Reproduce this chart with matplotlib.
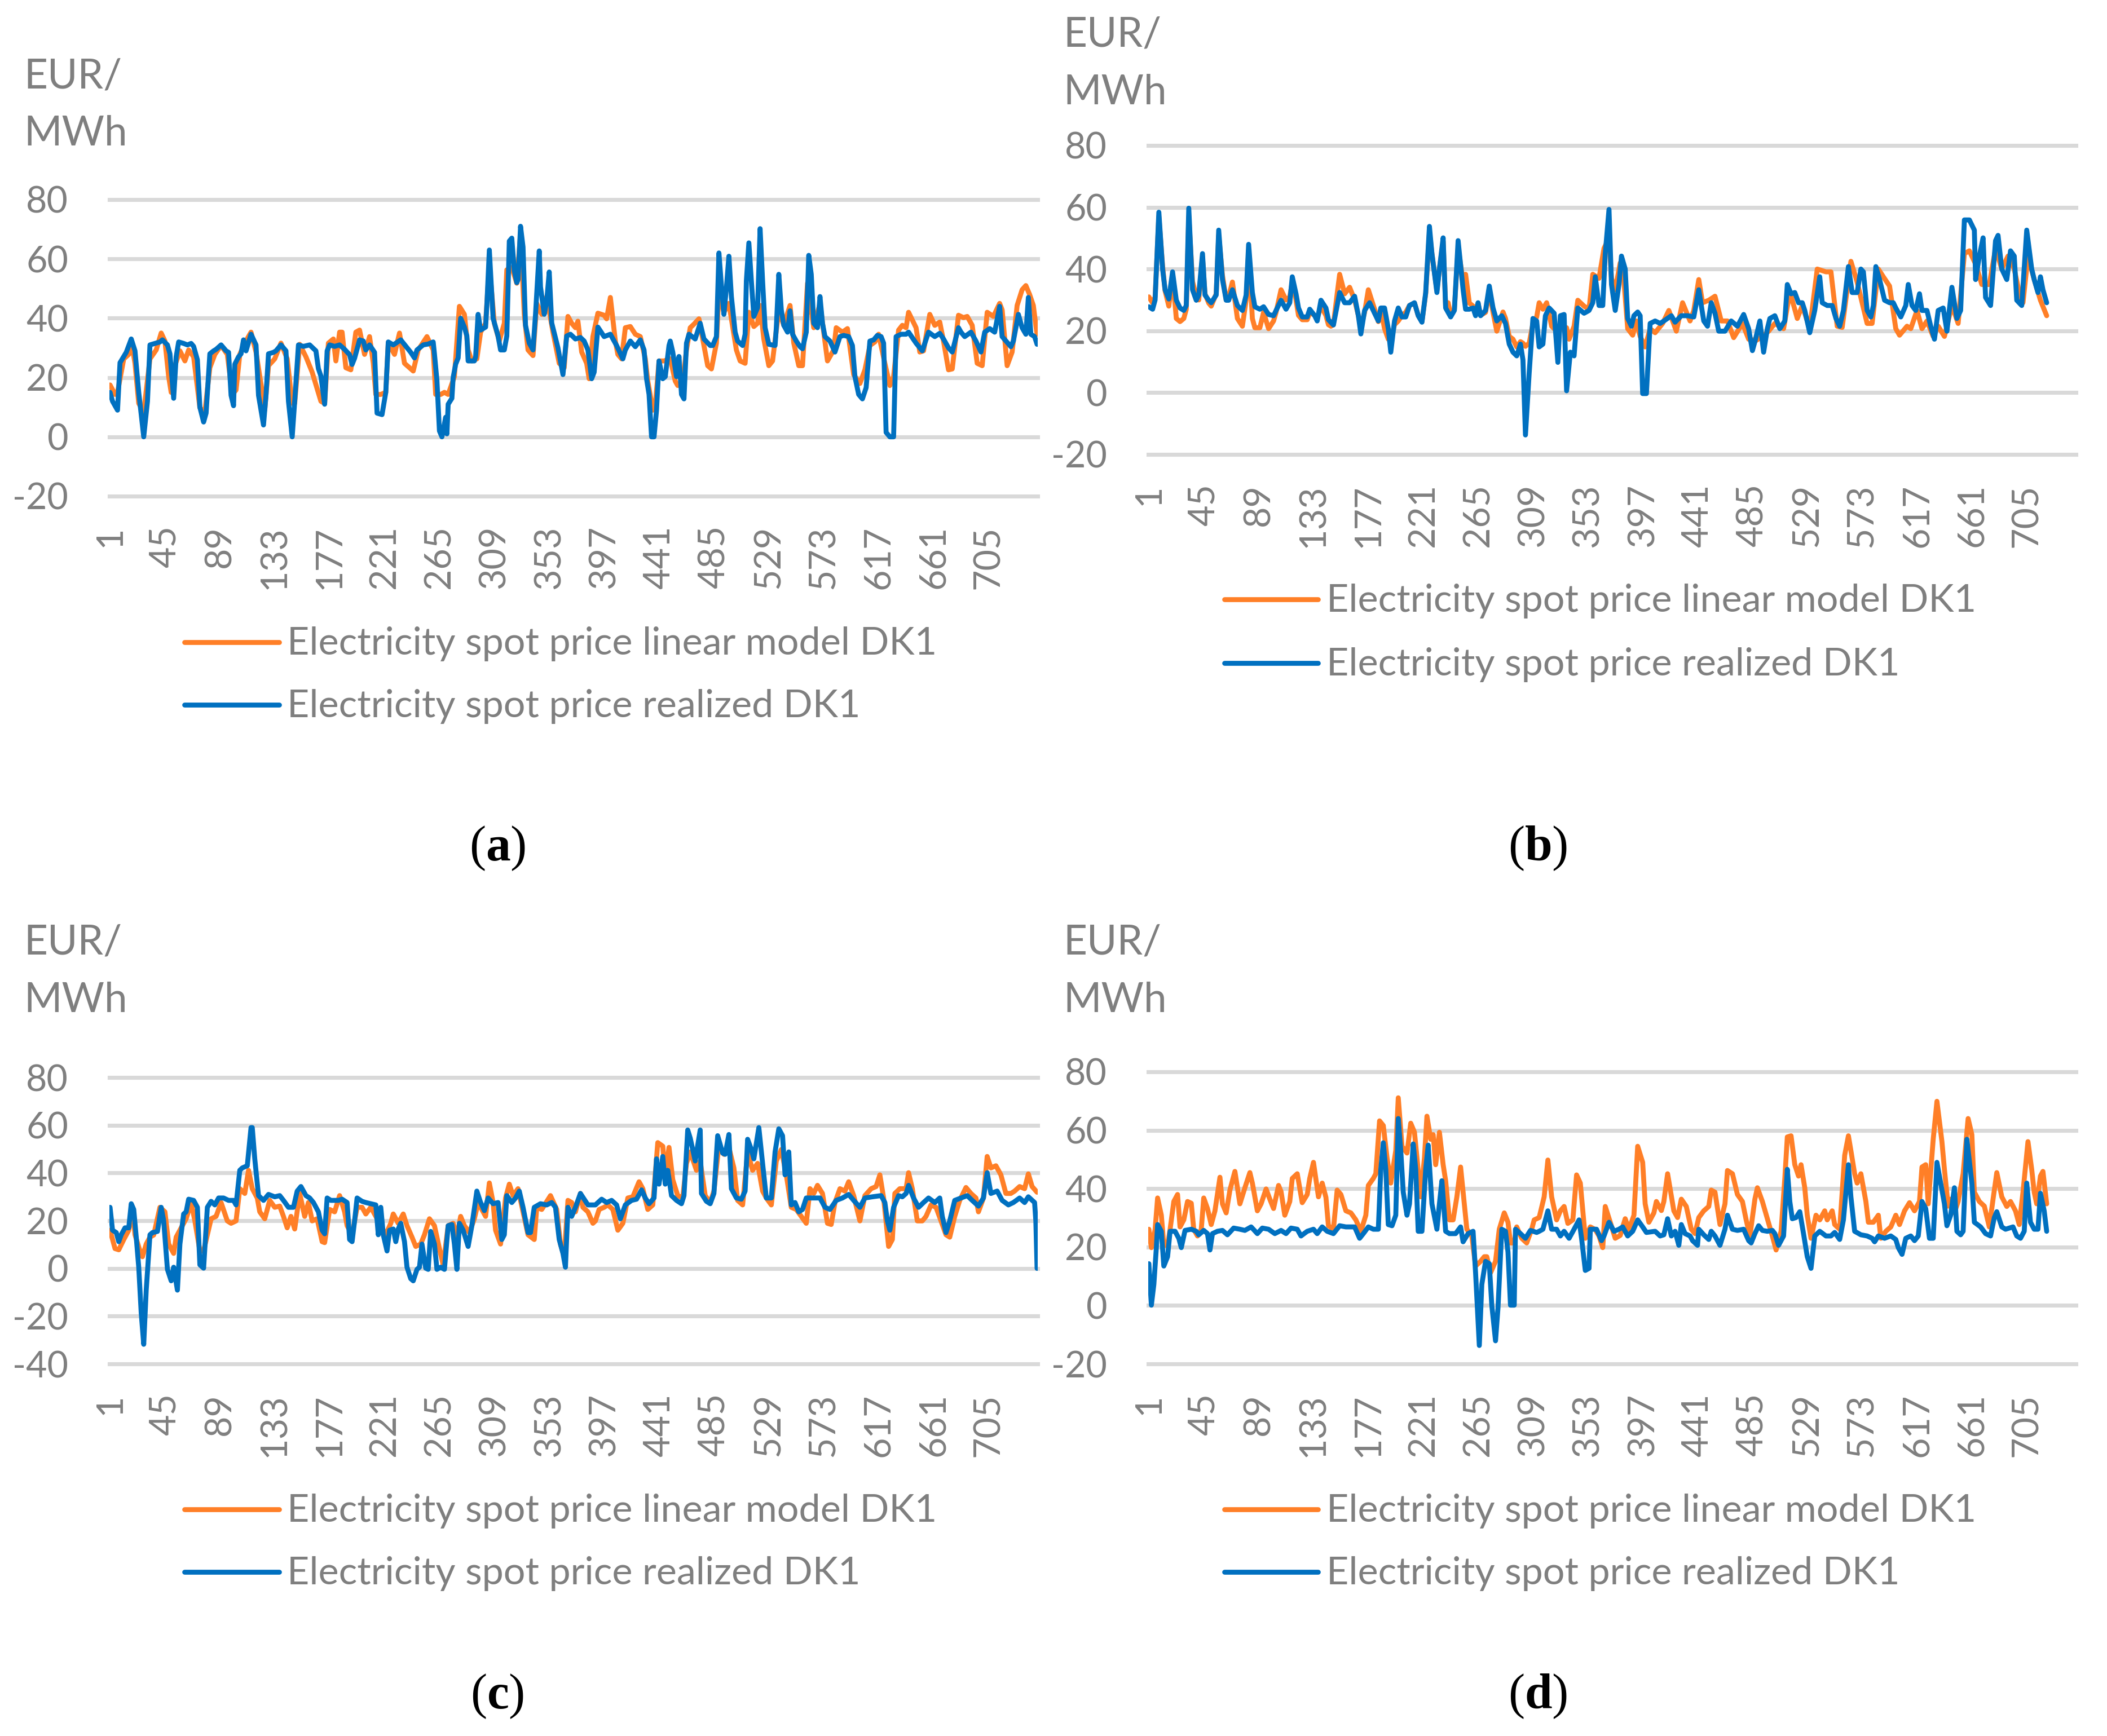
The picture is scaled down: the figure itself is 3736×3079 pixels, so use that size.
import matplotlib
matplotlib.use("Agg")
from matplotlib import pyplot as plt
from matplotlib.lines import Line2D

W, H = 3736, 3079
DPI = 300

# COLORS
ORANGE = "#FF7F27"
BLUE = "#0070C0"
GRID = "#D9D9D9"
GREY = "#7F7F7F"

LEGEND_LABELS = ["Electricity spot price linear model DK1",
                 "Electricity spot price realized DK1"]
X_TICKS = [1, 45, 89, 133, 177, 221, 265, 309, 353, 397, 441, 485, 529, 573, 617, 661, 705]
UNIT_LINES = ["EUR/", "MWh"]

# (hour, EUR/MWh)
A_REAL = [(1, 15), (3, 12), (7, 9), (9, 25), (14, 28.5), (18, 33), (21, 29), (24, 15), (28, 0), (31, 12),
          (33, 31), (37, 31.5), (41, 32), (43, 32.7), (47, 31), (49, 28), (52, 13), (54, 27), (56, 32), (60, 31.5),
          (63, 31), (66, 31.5), (68, 30.5), (71, 26), (73, 10), (76, 5), (78, 8), (81, 28), (84, 29), (86, 29.5),
          (90, 31), (94, 29), (96, 28.5), (98, 14), (100, 10.5), (101, 24.5), (104, 27), (106, 28), (108, 32.7),
          (110, 29), (114, 34.6), (118, 31), (120, 14), (124, 4), (126, 14), (128, 28), (132, 28.5), (134, 29),
          (138, 31), (142, 29), (144, 12), (147, 0), (149, 12), (152, 31), (156, 30.5), (161, 31), (166, 29),
          (168, 23), (170, 20.5), (173, 11), (175, 29), (177, 31), (181, 30.5), (185, 31), (189, 29.5), (193, 27.7),
          (195, 24.4), (197, 26.5), (201, 32.7), (204, 32.3), (206, 29.3), (209, 31), (213, 28.5), (215, 8),
          (219, 7.5), (222, 15), (224, 32), (228, 31), (234, 32.7), (242, 28.5), (245, 26.6), (247, 29.3), (252, 31),
          (256, 31.3), (260, 32), (261, 28), (263, 19), (265, 2), (267, 0), (270, 6.6), (271, 1), (272, 11),
          (275, 13), (276, 20), (278, 24.5), (280, 26.6), (282, 40), (285, 37), (287, 34), (288, 25.6), (293, 25.6),
          (294, 27), (296, 41.3), (298, 36), (302, 37), (303, 44.3), (305, 63), (308, 40), (312, 34), (314, 29.3),
          (317, 29.3), (319, 34), (321, 66), (323, 67), (325, 56), (327, 52), (328, 53), (330, 71), (332, 64),
          (334, 37.6), (337, 31.6), (340, 29.3), (342, 41.3), (345, 62.7), (346, 50.6), (349, 41.3), (351, 45.8),
          (353, 55.6), (355, 38.4), (360, 30), (364, 21), (367, 34), (370, 34.6), (374, 33), (378, 33.5),
          (381, 32.3), (384, 29.3), (387, 19.6), (389, 21.8), (392, 37), (397, 33.8), (402, 34.6), (407, 30.8),
          (412, 26.3), (414, 29.3), (418, 32.3), (422, 30.4), (426, 32.7), (429, 29.3), (431, 19.6), (433, 14.3),
          (435, 0), (437, 0), (439, 9), (441, 25.6), (444, 19.6), (446, 20.3), (449, 30.8), (450, 32.3), (452, 28.6),
          (455, 20.3), (457, 27.1), (459, 14.3), (461, 12.8), (463, 31.6), (465, 34.6), (470, 33), (474, 38.3),
          (477, 33), (482, 30.8), (484, 30.8), (487, 33.8), (489, 62), (491, 51), (493, 41.3), (495, 50.3),
          (497, 60.9), (499, 47.3), (502, 35.3), (504, 32.3), (508, 30.8), (510, 34.6), (511, 52.6), (513, 65.4),
          (515, 52.6), (517, 40.6), (520, 43.6), (522, 70.2), (524, 52.6), (526, 36.8), (529, 31.2), (534, 30.8),
          (535, 36.8), (537, 54.8), (539, 42.8), (541, 37.6), (544, 35.3), (546, 42.5), (548, 34.6), (551, 32.3),
          (554, 30.4), (556, 29.7), (559, 35.3), (561, 61.2), (563, 54.8), (565, 38.3), (568, 36.8), (570, 47.3),
          (572, 38.3), (574, 33.8), (578, 32.3), (582, 28.6), (586, 33.8), (589, 34.2), (593, 33.8), (596, 30.8),
          (598, 20.3), (601, 14.3), (604, 12.8), (607, 16.6), (610, 32.3), (613, 32.7), (616, 34.2), (619, 33.8),
          (621, 31.6), (623, 1.5), (626, 0), (629, 0), (631, 33.8), (635, 34.6), (639, 34.6), (641, 35.3),
          (647, 31.6), (652, 29), (657, 35.3), (662, 33.8), (666, 34.9), (669, 33), (673, 30), (676, 28.6),
          (681, 36.8), (683, 35.3), (686, 33.8), (691, 35.3), (695, 32.3), (699, 28.6), (702, 35.3), (706, 36.5),
          (710, 35.3), (714, 44), (716, 33.8), (723, 30.4), (725, 32.3), (729, 41.3), (732, 36.8), (735, 34.6),
          (737, 47), (739, 34.6), (742, 33.8), (744, 31.2)]

A_MODEL = [(1, 17.5), (5, 14.3), (7, 15), (10, 21.8), (12, 26.3), (16, 27.8), (18, 32.3), (21, 24.8), (24, 11.3),
           (28, 8.3), (33, 26.3), (38, 29.3), (42, 35), (45, 32.3), (48, 20.3), (50, 15), (53, 24), (57, 29),
           (61, 25.6), (64, 29.3), (68, 27), (73, 9.8), (77, 8.3), (81, 23.3), (85, 27.8), (90, 30.8), (95, 27.8),
           (99, 14.3), (102, 15.8), (105, 27.8), (109, 31.6), (114, 35.3), (118, 28.6), (123, 15), (125, 9),
           (128, 24), (133, 26.3), (138, 31.6), (143, 26.3), (147, 11.3), (149, 11.3), (153, 31.2), (158, 27),
           (163, 21.8), (170, 12), (173, 11.3), (176, 31.6), (180, 33), (182, 25.6), (185, 35.3), (187, 35.3),
           (190, 23.3), (194, 22.6), (198, 35.3), (201, 36), (205, 27.8), (209, 33.8), (212, 24.8), (214, 14.3),
           (218, 14.3), (222, 15), (224, 31.6), (229, 27.8), (233, 35), (237, 24.8), (241, 23.3), (244, 22.2),
           (248, 29.3), (255, 33.8), (260, 29.3), (262, 14.3), (266, 14.3), (269, 15), (272, 14.3), (277, 20.3),
           (281, 44), (285, 41.3), (288, 29.3), (291, 25.6), (295, 26.3), (298, 35.3), (302, 38.3), (305, 57.9),
           (309, 38.3), (313, 32.3), (317, 38.3), (319, 56.3), (323, 57.1), (327, 51.8), (330, 68.4), (333, 41.3),
           (336, 29.3), (340, 27.4), (343, 45), (347, 41.3), (351, 47.3), (356, 35.3), (361, 24.8), (365, 23.3),
           (368, 40.6), (371, 38.3), (374, 36.8), (376, 39), (379, 28.6), (383, 24.8), (385, 19.6), (388, 33.8),
           (392, 41.7), (397, 41), (399, 39.8), (402, 47), (406, 32.3), (408, 27.8), (411, 26.3), (414, 36.8),
           (418, 37.2), (422, 34.6), (426, 33.8), (430, 26.3), (432, 18.8), (436, 9), (438, 10.5), (441, 25.6),
           (445, 25.6), (450, 26.3), (454, 18.8), (456, 17.3), (460, 18.8), (463, 29.3), (466, 36.8), (469, 38),
           (473, 39.8), (477, 30.8), (480, 24), (483, 22.9), (487, 31.6), (489, 48.8), (493, 42), (497, 45),
           (501, 34.6), (503, 29.3), (506, 25.6), (510, 24.8), (513, 42), (517, 37.2), (520, 38.3), (522, 44.3),
           (525, 33), (529, 24), (532, 25.6), (537, 42.8), (541, 37.6), (546, 44.3), (549, 31.6), (553, 24),
           (556, 24), (560, 51.8), (565, 36.8), (570, 45), (576, 25.6), (581, 29.3), (583, 36.8), (588, 35.3),
           (592, 36.5), (597, 21), (602, 18), (606, 22.6), (610, 30.8), (614, 32), (617, 34.6), (622, 24.8),
           (626, 17.3), (629, 20.3), (633, 36), (636, 37.6), (639, 36.8), (641, 42), (647, 36.8), (650, 28.6),
           (653, 29), (658, 41.3), (662, 37.6), (666, 38.7), (669, 32.3), (673, 22.6), (676, 22.9), (681, 41),
           (685, 40.2), (688, 40.6), (692, 37.6), (696, 24.8), (700, 24), (704, 42), (709, 40.6), (714, 45),
           (716, 42.8), (720, 24), (724, 28.6), (728, 44.3), (732, 49.6), (735, 51), (738, 48), (741, 44.3),
           (743, 37.6), (744, 34.6)]

B_REAL = [(1, 27.8), (4, 27), (6, 30), (9, 58.4), (12, 40), (14, 33.3), (17, 30.3), (20, 39.1), (23, 29.9),
          (26, 27.4), (29, 26.6), (31, 28.2), (33, 59.7), (36, 33.3), (39, 29.9), (41, 31.6), (44, 45), (46, 31.6),
          (49, 29.9), (51, 29.1), (55, 31.6), (57, 52.6), (60, 36.6), (63, 29.9), (65, 29.9), (68, 33.3), (72, 28.2),
          (76, 26.6), (79, 31.6), (81, 48), (84, 32.4), (86, 27.8), (90, 27), (93, 27.8), (97, 25.3), (101, 24.9),
          (103, 26.6), (107, 29.9), (111, 27), (114, 29.1), (116, 37.5), (119, 32), (121, 27.4), (124, 24.5),
          (128, 24.5), (130, 27), (134, 24.9), (136, 23.2), (139, 29.9), (143, 27.4), (145, 23.6), (149, 21.9),
          (152, 28.2), (154, 32.4), (158, 29.1), (162, 29.1), (166, 31.2), (169, 24.9), (171, 19), (174, 26.6),
          (178, 29.1), (182, 25.7), (185, 23.2), (187, 27.4), (190, 27.4), (193, 20.7), (195, 13.1), (198, 23.2),
          (201, 27.4), (204, 24.5), (207, 24.5), (210, 28.2), (214, 29.1), (217, 24.9), (220, 22.8), (223, 32.4),
          (226, 53.8), (228, 45), (232, 32.4), (234, 40), (237, 50.1), (239, 27.4), (243, 24.5), (246, 26.6),
          (249, 49.2), (253, 33.3), (255, 27), (258, 27), (261, 27.4), (263, 24.9), (265, 29.1), (267, 24.9),
          (271, 26.6), (274, 34.5), (277, 27.4), (280, 23.2), (284, 24.9), (287, 22.4), (290, 15.7), (293, 13.1),
          (296, 11.9), (299, 15.7), (301, 10.6), (303, -13.7), (306, 6.4), (309, 24), (312, 23.2), (314, 14.8),
          (317, 15.7), (319, 24.9), (322, 27.4), (326, 25.7), (329, 9.8), (331, 24.9), (334, 25.3), (336, 0.6),
          (339, 13.1), (342, 11.9), (345, 27.4), (350, 25.7), (354, 26.6), (357, 29.1), (359, 37.5), (362, 28.2),
          (365, 28.2), (367, 45), (370, 59.3), (372, 35), (375, 26.6), (378, 35), (380, 44.2), (383, 40), (385, 24),
          (388, 21.5), (390, 24.9), (393, 26.1), (395, 24.9), (397, -0.3), (400, -0.3), (403, 22.4), (407, 23.2),
          (411, 22.4), (414, 23.2), (420, 24.9), (423, 22.8), (428, 24.9), (433, 24.9), (438, 24.5), (442, 33.3),
          (446, 23.2), (449, 21.5), (452, 29.1), (455, 25.7), (458, 19.9), (463, 19.9), (468, 23.2), (473, 21.5),
          (478, 25.3), (482, 20.7), (485, 13.6), (487, 16.5), (491, 23.2), (494, 13.1), (497, 20.7), (499, 24),
          (503, 24.9), (507, 20.7), (511, 23.2), (513, 35), (516, 32), (519, 32.4), (522, 29.1), (525, 29.1),
          (527, 26.6), (531, 19.4), (535, 26.6), (539, 37.5), (541, 29.1), (545, 28.2), (549, 28.2), (552, 24),
          (555, 21.5), (558, 26.6), (562, 40.8), (565, 32.4), (569, 32.4), (572, 40), (574, 39.1), (577, 26.6),
          (580, 24.5), (582, 28.2), (584, 40.8), (587, 36.6), (591, 29.9), (595, 29.1), (598, 29.1), (600, 27.4),
          (604, 24.5), (608, 28.2), (610, 35), (613, 28.2), (616, 26.6), (619, 32), (621, 26.6), (625, 26.6),
          (628, 21.5), (631, 17.3), (634, 26.6), (638, 27.4), (641, 19.9), (645, 34.1), (649, 24), (652, 26.6),
          (655, 55.9), (659, 55.9), (663, 52.6), (664, 36.6), (667, 44.2), (670, 50.1), (672, 30.8), (676, 28.2),
          (680, 49.2), (682, 50.9), (685, 40), (689, 36.6), (692, 45.9), (695, 44.2), (697, 29.9), (701, 28.2),
          (705, 52.6), (709, 40), (711, 36.6), (714, 32.4), (716, 37.5), (718, 33.3), (721, 29.1)]

B_MODEL = [(1, 31), (4, 29), (6, 31), (9, 57), (12, 41), (14, 33), (17, 28), (20, 38), (23, 24), (26, 23), (29, 24),
           (31, 27), (33, 57), (36, 36), (39, 31), (41, 30), (44, 44), (46, 32), (49, 29), (51, 28), (55, 32),
           (57, 51), (60, 38), (63, 30), (65, 31), (68, 35.8), (72, 24), (76, 21.5), (79, 30), (81, 46), (84, 24),
           (86, 21), (90, 21), (93, 26), (97, 20.7), (101, 23.2), (103, 26), (107, 33.3), (111, 30), (114, 31),
           (116, 35.8), (119, 30), (121, 25), (124, 23.6), (128, 23.6), (130, 26), (134, 25), (136, 24), (139, 28),
           (143, 25), (145, 22), (147, 21.5), (149, 22), (152, 32), (154, 38.3), (158, 32), (162, 34.1), (166, 30),
           (169, 25), (171, 21), (174, 26), (177, 33.3), (182, 27), (185, 23), (187, 27), (190, 20.7), (193, 17.3),
           (195, 17), (198, 22), (201, 23.2), (204, 25), (207, 26), (210, 28.2), (214, 29), (217, 25), (220, 23),
           (223, 32), (226, 52), (228, 45), (232, 33), (234, 40), (237, 49), (239, 28), (241, 29.1), (243, 25),
           (246, 27), (249, 47), (253, 36), (255, 38.3), (258, 29), (261, 28), (263, 26), (265, 29), (267, 25),
           (271, 26), (274, 33), (277, 26), (280, 19.9), (285, 26.1), (287, 24), (290, 18.2), (293, 17.3),
           (296, 14.8), (299, 16.5), (301, 16), (303, 15), (306, 16), (309, 22.4), (312, 24.5), (314, 29.1),
           (317, 27), (320, 29.1), (324, 21.5), (328, 19.9), (333, 20.7), (336, 21), (338, 17.3), (342, 21.5),
           (345, 29.9), (350, 28), (354, 27), (357, 38.3), (362, 37), (366, 46.7), (370, 50), (372, 37),
           (375, 33.3), (379, 42), (382, 36), (385, 20.7), (389, 18.6), (392, 23.2), (395, 18.2), (399, 14.8),
           (403, 20.7), (407, 19.4), (413, 22.4), (418, 26.6), (424, 19.9), (429, 29.1), (435, 23.2), (438, 26.6),
           (442, 36.6), (445, 29.1), (450, 29.9), (455, 31.2), (460, 23.2), (465, 23.2), (470, 17.8), (477, 22.4),
           (482, 17.3), (488, 16.9), (493, 18.2), (498, 19.9), (503, 22.4), (510, 20.7), (515, 32.4), (517, 29.9),
           (521, 24), (525, 28.2), (531, 20.7), (537, 40), (544, 39.1), (548, 39.1), (553, 21.5), (557, 21.1),
           (564, 42.5), (569, 35.8), (577, 22.4), (581, 22.4), (586, 40), (590, 37.5), (595, 34.5), (600, 20.7),
           (603, 18.6), (609, 21.5), (612, 20.7), (617, 26.6), (621, 20.7), (625, 23.2), (630, 18.2), (634, 21.5),
           (639, 18.2), (645, 28.2), (650, 22.4), (655, 45), (659, 45.9), (664, 41.6), (669, 35), (675, 35),
           (680, 46.7), (685, 40), (690, 44.2), (695, 40), (699, 32.4), (702, 29.1), (706, 44.2), (711, 36.6),
           (716, 29.9), (721, 24.9)]

C_REAL = [(1, 25.6), (3, 16), (6, 15), (8, 11.2), (10, 14.1), (13, 17), (16, 17), (18, 27.1), (20, 24.7), (22, 13.1),
          (24, 0.5), (26, -18.8), (28, -31.8), (30, -9.1), (33, 14.1), (35, 15), (39, 15.5), (42, 25.6), (44, 19.9),
          (47, -0.4), (50, -5.2), (52, 0.5), (55, -9.1), (57, 10.2), (60, 22.8), (62, 23.7), (64, 29), (68, 28.5),
          (71, 25.6), (73, 1.5), (76, 0.1), (79, 25.6), (82, 28.1), (85, 26.6), (88, 29.5), (92, 29.5), (96, 28.5),
          (100, 28.5), (102, 26.6), (105, 41.1), (107, 42.1), (111, 43), (114, 59), (115, 59), (117, 45.9),
          (120, 30.5), (124, 28.5), (128, 31), (133, 30), (137, 30.5), (140, 28.5), (144, 25.6), (148, 25.6),
          (151, 32.4), (154, 34.3), (158, 30.5), (161, 29.5), (164, 27.6), (168, 23.7), (171, 16), (173, 14.5),
          (175, 29.5), (178, 28.5), (184, 28.5), (187, 29), (191, 27.6), (193, 12.1), (195, 11.2), (197, 19.9),
          (199, 29.5), (203, 28.1), (206, 27.6), (210, 27.1), (214, 26.6), (216, 14.1), (218, 25.6), (220, 14.1),
          (223, 7.3), (225, 16), (228, 16.5), (230, 11.2), (232, 16.5), (234, 18.9), (237, 11.2), (239, 0.5),
          (242, -4.3), (244, -5.2), (247, -0.4), (249, 0.5), (251, 10.2), (254, 0.1), (256, -0.4), (258, 15.5),
          (261, 10.2), (263, -0.4), (266, 0.5), (269, -0.4), (272, 17.9), (275, 18.4), (277, 10.2), (279, -0.4),
          (281, 18.9), (284, 16), (288, 9.2), (291, 17.9), (295, 32.4), (298, 27.6), (301, 24.2), (304, 29.5),
          (308, 27.1), (312, 27.6), (315, 12.1), (317, 14.1), (319, 30.5), (323, 27.6), (326, 29.5), (329, 32.4),
          (332, 25.6), (336, 15), (338, 15), (341, 25.6), (346, 27.1), (351, 26.6), (355, 27.6), (358, 25.6),
          (361, 12.1), (364, 6.3), (366, 0.5), (368, 25.6), (371, 21.8), (374, 25.6), (378, 31.4), (384, 26.6),
          (390, 26.6), (395, 29), (399, 27.6), (403, 28.5), (407, 26.6), (410, 20.8), (414, 26.6), (419, 28.5),
          (423, 29), (427, 32.9), (430, 29.5), (433, 27.1), (437, 29.5), (439, 45.9), (441, 35.3), (444, 46.9),
          (446, 35.3), (448, 41.1), (451, 30.5), (455, 28.5), (459, 27.1), (461, 30.5), (464, 58), (466, 54.6),
          (470, 45), (474, 58), (475, 31.4), (479, 28.1), (482, 27.1), (485, 31.4), (488, 55.6), (492, 48.3),
          (494, 47.8), (497, 56.1), (499, 33.4), (503, 29.5), (507, 29), (510, 32.4), (512, 54.1), (515, 49.8),
          (517, 45.9), (521, 59), (524, 44), (527, 29.5), (531, 29.5), (534, 48.8), (537, 58.5), (540, 55.6),
          (542, 39.2), (545, 48.8), (547, 26.6), (550, 27.6), (553, 23.7), (556, 24.7), (559, 29.5), (565, 29.5),
          (570, 29.5), (574, 25.6), (578, 24.7), (583, 28.5), (588, 29.5), (593, 31), (597, 28.5), (602, 25.6),
          (606, 29.5), (612, 30), (619, 30.5), (622, 27.6), (624, 19.9), (626, 16), (629, 25.6), (633, 30.5),
          (636, 30), (639, 31.4), (641, 34.8), (645, 29.5), (649, 25.6), (653, 27.6), (657, 29.5), (662, 27.6),
          (666, 29.5), (668, 21.8), (671, 15), (674, 19.9), (678, 28.5), (683, 29.5), (688, 30.5), (692, 28.5),
          (697, 26.1), (701, 29.5), (704, 40.1), (707, 31.4), (712, 32.4), (716, 28.5), (721, 26.6), (725, 27.6),
          (730, 29.5), (734, 27.6), (737, 30), (742, 27.6), (743, 19.9), (744, 0)]

C_MODEL = [(1, 16), (5, 8.3), (8, 7.8), (12, 12.1), (16, 16), (19, 25.6), (21, 14.1), (25, 7.3), (27, 4.9), (30, 10.2),
           (33, 13.1), (36, 14), (41, 25.6), (45, 23.7), (48, 10.2), (52, 6.3), (54, 13.1), (58, 17), (62, 20.8),
           (66, 27.6), (69, 19.9), (73, 7.3), (76, 7.3), (79, 14.1), (82, 20.8), (86, 21.8), (90, 27.6), (95, 19.9),
           (98, 18.9), (102, 19.9), (105, 33.4), (109, 31.4), (112, 41.1), (115, 33.4), (119, 29.5), (121, 23.7),
           (125, 20.8), (129, 28.5), (133, 25.6), (137, 26.1), (140, 21.8), (143, 17), (146, 21.8), (149, 16.5),
           (153, 31.4), (157, 21.8), (160, 27.6), (163, 19.9), (167, 20.8), (171, 11.2), (173, 10.8), (177, 24.7),
           (181, 23.7), (185, 30.5), (189, 23.7), (191, 17.9), (195, 14.1), (199, 25.6), (203, 25.6), (206, 22.8),
           (210, 25.6), (214, 21.8), (218, 17.9), (222, 14.1), (226, 18.9), (228, 22.8), (232, 18.9), (236, 22.8),
           (239, 17.9), (243, 13.1), (246, 9.2), (250, 10.2), (253, 14.1), (257, 20.8), (261, 17.9), (265, 8.3),
           (268, 1.5), (272, 17.9), (276, 18.9), (279, 13.1), (282, 21.8), (285, 17.9), (289, 15), (293, 20.8),
           (296, 27.6), (302, 21.8), (305, 35.8), (308, 27.6), (310, 16), (314, 10.2), (318, 29.5), (321, 35.3),
           (324, 30.5), (328, 33.4), (332, 23.7), (336, 14.1), (341, 12.1), (343, 25.6), (347, 24.7), (354, 30.5),
           (359, 24.7), (362, 10.2), (365, 5), (368, 28.5), (371, 27.6), (374, 23.7), (378, 31.4), (380, 25.6),
           (384, 23.7), (388, 18.9), (390, 19.9), (393, 24.7), (397, 25.6), (400, 26.6), (404, 24.7), (408, 16),
           (412, 18.9), (416, 29.5), (420, 30), (425, 36.3), (428, 33.4), (432, 24.7), (436, 26.6), (440, 52.7),
           (444, 51.2), (446, 39.2), (449, 50.7), (452, 37.2), (456, 30.5), (460, 29.5), (463, 44), (466, 48.8),
           (471, 41.1), (474, 45), (478, 30.5), (482, 27.6), (485, 32.4), (489, 51.7), (493, 47.8), (497, 50.7),
           (501, 42.1), (504, 28.5), (508, 26.6), (512, 48.8), (516, 41.1), (520, 44), (524, 32.4), (527, 29.5),
           (531, 26.6), (535, 45), (539, 49.8), (543, 39.2), (547, 25.6), (551, 24.7), (555, 21.8), (559, 18.9),
           (562, 33.4), (565, 31.4), (568, 34.8), (572, 31.4), (576, 18.9), (579, 18.4), (582, 27.6), (586, 33.4),
           (590, 32.4), (593, 36.3), (597, 30.5), (602, 19.9), (606, 30.5), (611, 33.4), (615, 34.3), (618, 39.2),
           (621, 29.5), (624, 14.1), (625, 9.2), (628, 12.1), (630, 31.4), (634, 33.4), (639, 33.4), (641, 40.1),
           (644, 33.4), (648, 19.9), (652, 19.9), (655, 21.8), (659, 26.6), (663, 25.6), (667, 19.9), (671, 14.1),
           (674, 13.1), (678, 21.8), (682, 28.5), (687, 33.9), (691, 31.4), (695, 29.5), (697, 23.7), (701, 29.5),
           (704, 46.9), (707, 42.1), (711, 43), (715, 39.2), (719, 31.4), (723, 31.4), (726, 32.4), (730, 34.3),
           (734, 33.4), (737, 39.6), (740, 34.3), (744, 31.9)]

D_REAL = [(1, 14.3), (3, 0.1), (5, 7.2), (7, 19.8), (8, 27.7), (11, 25.4), (13, 13.5), (16, 16.7), (18, 25.4),
          (22, 25.4), (25, 23), (27, 19.8), (30, 25.7), (35, 26.1), (39, 25.4), (41, 24.2), (45, 25.7), (48, 24.6),
          (50, 19), (52, 24.6), (56, 25.4), (60, 25.7), (64, 24.2), (69, 26.5), (74, 26.1), (78, 25.7), (83, 26.9),
          (88, 24.6), (92, 26.5), (97, 26.1), (102, 24.6), (107, 25.7), (111, 24.6), (115, 26.5), (120, 26.1),
          (123, 23.8), (128, 25.4), (133, 26.1), (136, 24.6), (140, 26.9), (144, 25.4), (149, 24.6), (154, 27.3),
          (159, 26.9), (166, 26.9), (170, 23), (173, 24.6), (177, 26.9), (181, 26.1), (185, 26.1), (187, 46.6),
          (189, 55.7), (191, 46.6), (193, 27.7), (196, 27.3), (199, 30.9), (201, 64), (203, 53), (205, 38.8),
          (208, 30.9), (210, 34.8), (213, 55.3), (215, 46.6), (217, 25.4), (220, 25.4), (223, 46.6), (225, 54.9),
          (228, 34.8), (232, 26.1), (234, 34.8), (236, 42.7), (239, 25.4), (242, 24.6), (247, 24.6), (251, 26.9),
          (253, 21.8), (257, 24.6), (261, 25.4), (263, 11.2), (266, -13.7), (268, 7.2), (271, 15.1), (274, 14.3),
          (276, 0.1), (279, -12.1), (281, -0.7), (284, 26.1), (287, 25.4), (289, 18.3), (291, 0.1), (294, 0.1),
          (295, 26.1), (299, 24.6), (303, 23), (307, 25.7), (312, 25), (314, 25.4), (317, 26.1), (321, 32.4),
          (324, 26.1), (328, 26.1), (331, 23.8), (334, 25.4), (338, 23), (342, 26.1), (346, 29.3), (348, 23),
          (351, 12), (354, 12.7), (355, 26.1), (360, 26.1), (364, 22.2), (366, 23.8), (370, 28.5), (374, 25.4),
          (378, 26.1), (381, 26.9), (385, 23.8), (389, 25.4), (393, 29.3), (397, 26.9), (400, 25), (407, 25.4),
          (411, 23.8), (414, 24.2), (417, 29.7), (420, 23.8), (423, 25.4), (426, 20.6), (428, 27.7), (431, 24.6),
          (435, 23.8), (437, 22.2), (441, 20.6), (442, 26.1), (446, 24.2), (450, 22.6), (452, 25.4), (455, 23.8),
          (459, 20.6), (463, 26.1), (465, 30.9), (469, 26.1), (473, 25.7), (478, 26.1), (482, 22.2), (484, 21.4),
          (487, 24.6), (490, 27.3), (493, 25.7), (497, 25.4), (501, 25.7), (503, 24.6), (506, 20.6), (510, 23.8),
          (513, 46.6), (515, 35.6), (517, 29.7), (520, 30.1), (523, 32.1), (526, 24.6), (529, 16.7), (532, 12.7),
          (535, 23.8), (539, 25.4), (544, 23.8), (548, 23.8), (551, 25), (555, 22.6), (558, 29.3), (562, 48.2),
          (564, 37.2), (567, 25.4), (572, 24.2), (577, 23.8), (581, 23), (583, 21.8), (586, 23.8), (591, 23),
          (596, 23.8), (600, 22.6), (602, 19.8), (605, 17.5), (608, 23), (612, 23.8), (615, 22.2), (618, 23.8),
          (621, 35.6), (624, 33.2), (627, 23), (630, 23), (633, 49), (636, 41.9), (639, 34.8), (641, 27.3),
          (644, 30.9), (647, 40.3), (649, 25.4), (652, 24.2), (654, 25.4), (657, 56.9), (661, 41.9), (663, 28.5),
          (668, 26.9), (672, 24.6), (676, 23.8), (679, 30.1), (681, 32.1), (685, 26.9), (688, 26.1), (694, 26.9),
          (697, 23.8), (700, 23), (703, 25.4), (705, 41.9), (708, 28.5), (711, 26.1), (714, 26.1), (716, 38.4),
          (719, 32.4), (721, 25.4)]

D_MODEL = [(1, 26.1), (3, 19.8), (6, 26), (8, 36.8), (11, 30.9), (13, 20.6), (16, 20.6), (18, 26), (21, 35.6),
           (24, 38), (26, 26.9), (29, 29.3), (32, 35.6), (35, 35), (37, 26.1), (40, 23.8), (43, 26), (45, 36.8),
           (48, 33.2), (51, 27.7), (54, 32.4), (58, 43.9), (60, 34.8), (63, 31.7), (66, 39.5), (70, 45.9), (74, 34.8),
           (78, 40.3), (82, 45.5), (84, 41.9), (88, 32.4), (91, 34.8), (95, 39.9), (98, 36.4), (101, 33.2),
           (105, 41.1), (107, 39), (110, 30.9), (114, 35.6), (116, 43.5), (120, 45.1), (124, 35.2), (128, 38),
           (130, 43.5), (133, 49), (137, 37.2), (140, 41.9), (143, 37), (145, 27.3), (149, 26.1), (152, 39.5),
           (155, 38), (159, 32.4), (163, 31.7), (167, 29.3), (171, 25.4), (175, 30.9), (177, 41.1), (181, 43.5),
           (183, 45.1), (186, 63.2), (189, 61.6), (192, 50.6), (195, 41.9), (199, 53), (201, 71.1), (204, 54.5),
           (208, 52.2), (211, 62.4), (214, 59.3), (216, 50.6), (219, 37.2), (222, 50.6), (224, 64.8), (227, 56.9),
           (229, 58.5), (231, 48.2), (234, 59.3), (237, 48.2), (239, 42.7), (242, 29.3), (245, 29.3), (248, 37.2),
           (251, 47.4), (253, 38.8), (256, 26.1), (260, 23.8), (263, 13.5), (267, 15.1), (270, 16.7), (272, 16.7),
           (275, 11.2), (279, 15.1), (282, 26.1), (286, 31.7), (289, 28.5), (291, 21.4), (294, 21.4), (296, 26.9),
           (300, 23), (304, 21.4), (308, 26.1), (310, 29.3), (314, 30.1), (318, 37.2), (321, 49.8), (324, 37.2),
           (328, 29.3), (331, 32.4), (334, 33.9), (337, 28.1), (341, 29.3), (344, 44.7), (347, 41.9), (351, 23),
           (355, 26.9), (359, 26), (362, 23.8), (365, 19.8), (367, 33.9), (371, 28.5), (375, 23), (379, 24),
           (383, 29.7), (386, 26), (390, 30.9), (393, 54.5), (397, 49), (399, 34.8), (402, 28.5), (406, 31.7),
           (408, 35.6), (412, 32.5), (414, 35.6), (417, 45.1), (422, 32.4), (425, 30.1), (428, 36.4), (432, 33.9),
           (436, 26.1), (439, 24.6), (442, 30.1), (446, 32.4), (450, 33.9), (452, 39.5), (455, 38.8), (459, 27.7),
           (463, 34.8), (465, 46.2), (469, 45.1), (473, 38), (477, 35.6), (480, 29.3), (483, 23.8), (487, 36.4),
           (489, 40.3), (493, 35.6), (497, 29.7), (501, 23.8), (504, 19), (508, 25.4), (511, 43.5), (513, 57.7),
           (516, 58.1), (519, 48.2), (522, 44.3), (524, 48.2), (527, 40.3), (529, 30.9), (532, 23), (536, 30.9),
           (539, 29.3), (543, 32.4), (545, 29.3), (549, 32.4), (551, 27.7), (555, 26.1), (559, 51.4), (562, 58.1),
           (564, 53), (567, 45.1), (569, 41.9), (572, 45.1), (576, 35.6), (578, 28.5), (582, 28.5), (586, 30.9),
           (588, 23), (592, 25.4), (596, 26.9), (600, 30.9), (603, 27.7), (607, 32.4), (611, 35.2), (615, 32.4),
           (619, 35.6), (621, 47.4), (624, 48.2), (626, 34.8), (630, 56.9), (633, 69.9), (637, 56.1), (639, 46.6),
           (642, 34), (644, 36.4), (647, 31.7), (650, 35.6), (654, 45.1), (658, 64), (661, 58.5), (663, 38.8),
           (667, 35.6), (671, 34), (675, 26.9), (678, 36.4), (681, 45.5), (685, 37.2), (689, 33.9), (692, 35.6),
           (696, 32.4), (699, 27.7), (702, 38.8), (706, 56.1), (709, 46.6), (711, 38.8), (713, 34.8), (716, 44.3),
           (718, 45.9), (721, 34.8)]

# layout in pixels of the target picture
PANELS = {
    "a": {"box": (194, 354, 1840, 880), "ylim": (-20, 80), "model": A_MODEL, "real": A_REAL,
          "unit": (42, 156, 258), "legend": (327, 495, 509, 1139, 1250), "tag": (882, 1505)},
    "b": {"box": (2036, 258, 3681, 806), "ylim": (-20, 80), "model": B_MODEL, "real": B_REAL,
          "unit": (1885, 83, 185), "legend": (2171, 2337, 2352, 1063, 1176), "tag": (2727, 1505)},
    "c": {"box": (194, 1911, 1840, 2419), "ylim": (-40, 80), "model": C_MODEL, "real": C_REAL,
          "unit": (42, 1693, 1795), "legend": (327, 495, 509, 2677, 2788), "tag": (882, 3009)},
    "d": {"box": (2036, 1901, 3681, 2419), "ylim": (-20, 80), "model": D_MODEL, "real": D_REAL,
          "unit": (1885, 1693, 1795), "legend": (2171, 2337, 2352, 2677, 2788), "tag": (2727, 3009)},
}

LW = 2.1
FS = 15.5
LEG_FS = 16.4


def fx(x):
    return x / W


def fy(y):
    return 1 - y / H


def main():
    plt.rcParams["font.family"] = ["Lato", "DejaVu Sans"]
    plt.rcParams["axes.unicode_minus"] = False
    plt.rcParams["mathtext.fontset"] = "custom"
    plt.rcParams["mathtext.rm"] = "Liberation Serif"
    plt.rcParams["mathtext.bf"] = "Liberation Serif:bold"

    fig = plt.figure(figsize=(W / DPI, H / DPI), dpi=DPI)

    for tag, p in PANELS.items():
        left, top, right, bottom = p["box"]
        ax = fig.add_axes([fx(left), fy(bottom), (right - left) / W, (bottom - top) / H])

        mh, mv = zip(*p["model"])
        rh, rv = zip(*p["real"])
        ax.plot(mh, mv, color=ORANGE, lw=LW, solid_joinstyle="round", solid_capstyle="round", zorder=3)
        ax.plot(rh, rv, color=BLUE, lw=LW, solid_joinstyle="round", solid_capstyle="round", zorder=4)

        ymin, ymax = p["ylim"]
        ax.set_xlim(0.5, 744.5)
        ax.set_ylim(ymin, ymax)
        ax.set_yticks(range(ymin, ymax + 1, 20))
        ax.set_xticks(X_TICKS)
        ax.set_xticklabels([str(t) for t in X_TICKS], rotation=90)
        ax.tick_params(axis="both", length=0, labelsize=FS, labelcolor=GREY)
        ax.tick_params(axis="y", pad=17.5)
        ax.tick_params(axis="x", pad=12.5)
        for s in ax.spines.values():
            s.set_visible(False)
        ax.grid(axis="y", color=GRID, lw=1.7)
        ax.set_axisbelow(True)
        for gl in ax.get_ygridlines():
            gl.set_clip_on(False)

        # unit label
        ux, uy1, uy2 = p["unit"]
        fig.text(fx(ux), fy(uy1), UNIT_LINES[0], fontsize=17.5, color=GREY, ha="left", va="baseline")
        fig.text(fx(ux), fy(uy2), UNIT_LINES[1], fontsize=17.5, color=GREY, ha="left", va="baseline")

        # legend
        lx0, lx1, tx, ly1, ly2 = p["legend"]
        for label, color, ly in zip(LEGEND_LABELS, [ORANGE, BLUE], [ly1, ly2]):
            fig.add_artist(Line2D([fx(lx0), fx(lx1)], [fy(ly), fy(ly)], color=color, lw=LW,
                                  solid_capstyle="round"))
            fig.text(fx(tx), fy(ly + 22), label, fontsize=LEG_FS, color=GREY, ha="left", va="baseline")

        # panel tag
        gx, gy = p["tag"]
        fig.text(fx(gx), fy(gy), r"$\mathrm{(}\mathbf{" + tag + r"}\mathrm{)}$", fontsize=21,
                 color="black", ha="center", va="center")

    fig.savefig("out.png", dpi=DPI, facecolor="white")


if __name__ == "__main__":
    main()
